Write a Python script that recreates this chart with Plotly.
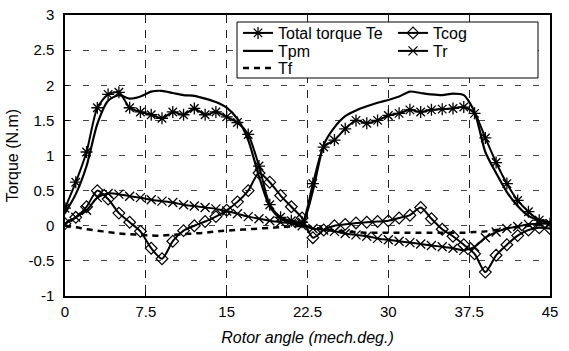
import plotly.graph_objects as go

# ---------------- data ----------------
angle = [0, 1, 2, 3, 4, 5, 6, 7, 8, 9, 10, 11, 12, 13, 14, 15, 16, 17, 18, 19, 20, 21, 22,
         23, 24, 25, 26, 27, 28, 29, 30, 31, 32, 33, 34, 35, 36, 37, 38, 39, 40, 41, 42, 43, 44, 45]

te = [0.25, 0.62, 1.05, 1.68, 1.87, 1.90, 1.68, 1.62, 1.58, 1.53, 1.62, 1.58, 1.67, 1.58, 1.62, 1.55,
      1.47, 1.30, 0.85, 0.30, 0.12, 0.07, 0.05,
      0.60, 1.12, 1.22, 1.38, 1.50, 1.46, 1.50, 1.57, 1.60, 1.65, 1.62, 1.65, 1.66, 1.67, 1.69,
      1.60, 1.25, 0.90, 0.60, 0.36, 0.20, 0.08, 0.03]

tpm = [0.18, 0.45, 0.85, 1.45, 1.78, 1.86, 1.81, 1.84, 1.91, 1.92, 1.89, 1.86, 1.85, 1.81, 1.76, 1.68,
       1.52, 1.22, 0.70, 0.27, 0.10, 0.05, 0.03,
       0.50, 1.15, 1.40, 1.56, 1.64, 1.70, 1.75, 1.79, 1.84, 1.91, 1.89, 1.87, 1.86, 1.88, 1.86,
       1.62, 1.05, 0.75, 0.48, 0.28, 0.14, 0.08, 0.05]

tcog = [0.03, 0.12, 0.27, 0.50, 0.38, 0.18, 0.05, -0.08, -0.32, -0.47, -0.22, -0.07, 0.00, 0.06, 0.13,
        0.22, 0.34, 0.50, 0.75, 0.62, 0.43, 0.27, 0.11,
        -0.17, -0.06, 0.00, 0.02, 0.04, 0.05, 0.06, 0.07, 0.11, 0.15, 0.26, 0.10, -0.05, -0.15, -0.27,
        -0.40, -0.66, -0.42, -0.27, -0.14, -0.06, -0.03, -0.04]

tr = [0.03, 0.12, 0.22, 0.40, 0.46, 0.45, 0.42, 0.40, 0.37, 0.35, 0.33, 0.30, 0.28, 0.26, 0.24, 0.21,
      0.17, 0.13, 0.10, 0.07, 0.05, 0.03, 0.00,
      -0.04, -0.06, -0.08, -0.11, -0.13, -0.15, -0.18, -0.20, -0.22, -0.24, -0.26, -0.28, -0.30, -0.32, -0.35,
      -0.30, -0.17, -0.09, -0.04, -0.01, 0.02, 0.03, 0.03]

tf = [0.00, -0.02, -0.05, -0.07, -0.09, -0.11, -0.12, -0.13, -0.14, -0.14, -0.13, -0.12, -0.11, -0.10,
      -0.08, -0.07, -0.06, -0.05, -0.04, -0.03, -0.02, -0.01, 0.00,
      -0.02, -0.05, -0.07, -0.08, -0.09, -0.10, -0.10, -0.10, -0.10, -0.10, -0.10, -0.10, -0.10, -0.10, -0.10,
      -0.09, -0.08, -0.06, -0.04, -0.02, 0.00, 0.01, 0.02]

x_ticks = [0, 7.5, 15, 22.5, 30, 37.5, 45]
x_tick_text = ["0", "7.5", "15", "22.5", "30", "37.5", "45"]
y_ticks = [-1, -0.5, 0, 0.5, 1, 1.5, 2, 2.5, 3]
y_tick_text = ["-1", "-0.5", "0", "0.5", "1", "1.5", "2", "2.5", "3"]

# ---------------- figure ----------------
W, H = 569, 351
ML, MR, MT, MB = 65, 19, 15, 55
PW, PH = W - ML - MR, H - MT - MB

FONT = "Liberation Sans, Arial, sans-serif"
BLACK = "#000000"


def px_to_paper_x(px):
    return (px - ML) / PW


def px_to_paper_y(py):
    return (H - MB - py) / PH


fig = go.Figure()

common = dict(mode="lines+markers", line=dict(color=BLACK, width=2, shape="spline", smoothing=0.7))

fig.add_trace(go.Scatter(x=angle, y=tr, name="Tr", legend="legend4",
                         marker=dict(symbol="x-thin-open", size=9, color=BLACK,
                                     line=dict(color=BLACK, width=1.3)), **common))
fig.add_trace(go.Scatter(x=angle, y=tcog, name="Tcog", legend="legend2",
                         marker=dict(symbol="diamond-open", size=9, color=BLACK,
                                     line=dict(color=BLACK, width=1.2)), **common))
fig.add_trace(go.Scatter(x=angle, y=tf, name="Tf", mode="lines", legend="legend5",
                         line=dict(color=BLACK, width=2.5, dash="6px,5px", shape="spline", smoothing=0.7)))
fig.add_trace(go.Scatter(x=angle, y=tpm, name="Tpm", mode="lines", legend="legend3",
                         line=dict(color=BLACK, width=2.2, shape="spline", smoothing=0.7)))
fig.add_trace(go.Scatter(x=angle, y=te, name="Total torque Te", legend="legend",
                         marker=dict(symbol="asterisk-open", size=10, color=BLACK,
                                     line=dict(color=BLACK, width=1.3)), **common))

# legend frame
fig.add_shape(type="rect", xref="paper", yref="paper",
              x0=px_to_paper_x(237), x1=px_to_paper_x(538),
              y0=px_to_paper_y(78), y1=px_to_paper_y(22),
              line=dict(color=BLACK, width=1), fillcolor="white", layer="above")

leg_common = dict(bgcolor="rgba(0,0,0,0)", borderwidth=0, font=dict(family=FONT, size=16, color=BLACK),
                  xanchor="left", yanchor="middle", itemwidth=30, tracegroupgap=0)
legends = {
    "legend": (238, 33),
    "legend3": (238, 51),
    "legend5": (238, 68),
    "legend2": (393, 33),
    "legend4": (393, 51),
}

fig.update_layout(
    width=W, height=H,
    margin=dict(l=ML, r=MR, t=MT, b=MB, autoexpand=False),
    paper_bgcolor="white", plot_bgcolor="white",
    font=dict(family=FONT, size=15, color=BLACK),
    showlegend=True,
    **{k: dict(x=px_to_paper_x(v[0]), y=px_to_paper_y(v[1]), **leg_common) for k, v in legends.items()},
    xaxis=dict(range=[0, 45], tickvals=x_ticks, ticktext=x_tick_text,
               showgrid=True, gridcolor="#222222", griddash="8px,7px", gridwidth=1,
               showline=True, linecolor=BLACK, linewidth=1.5, mirror=True,
               ticks="inside", ticklen=4, tickcolor=BLACK, zeroline=False,
               tickfont=dict(size=15), ticklabelstandoff=1,
               title=dict(text="<i>Rotor angle (mech.deg.)</i>", font=dict(size=16), standoff=13)),
    yaxis=dict(range=[-1, 3], tickvals=y_ticks, ticktext=y_tick_text,
               showgrid=True, gridcolor="#444444", griddash="6px,12px", gridwidth=1,
               showline=True, linecolor=BLACK, linewidth=1.5, mirror=True,
               ticks="inside", ticklen=4, tickcolor=BLACK, zeroline=False,
               tickfont=dict(size=15), ticklabelstandoff=6,
               title=dict(text="Torque (N.m)", font=dict(size=16), standoff=6)),
)

fig.write_html("out.html", config={"displayModeBar": False},
               post_script="document.body.style.margin='0';")
